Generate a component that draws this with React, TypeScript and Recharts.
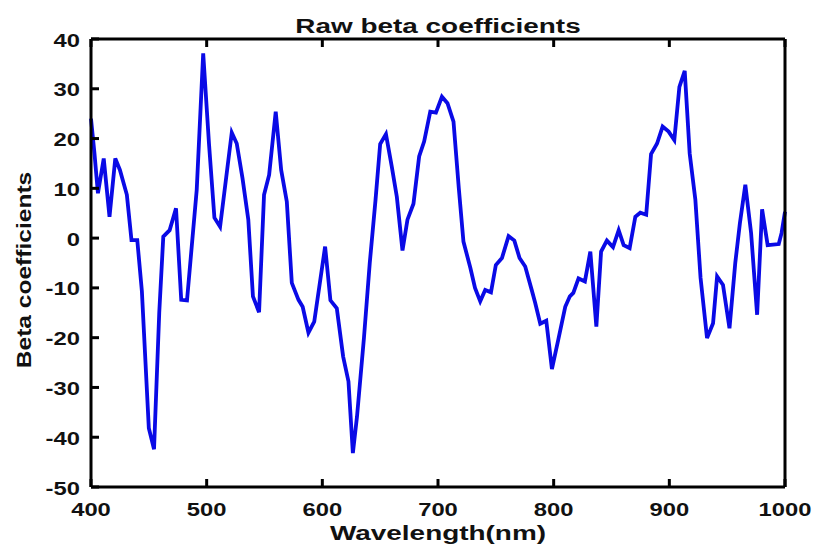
import { LineChart, Line, XAxis, YAxis } from 'recharts';

// wavelengths (nm) and raw beta coefficients
const wavelength = [
  400, 403, 406, 411, 416, 421, 425, 431, 435, 440, 444, 450, 454.5, 459, 462.5,
  468, 473.5, 478, 483, 491.4, 497, 502, 506.7, 511.6, 521.7, 526, 531, 536, 540,
  545.3, 549.6, 554, 559.7, 564.4, 569.3, 573.6, 579.4, 583, 588, 593, 602.4, 607,
  612.5, 618, 622.6, 626.4, 630, 636, 641, 646, 650, 655, 660, 664.4, 669.3, 673.6,
  678.8, 683.7, 688, 693.3, 698.2, 703.4, 708.2, 713.4, 718, 722, 728, 732, 736.5,
  740.8, 745.8, 750, 755.3, 761, 766, 770.5, 775.4, 781, 784, 788.4, 793.6, 798.5,
  804, 810, 814, 817, 821.5, 827, 831.7, 836.9, 841, 846, 851.3, 856.2, 860.5,
  865.7, 870.6, 874.9, 880, 884.2, 889.4, 894.2, 899.4, 904.3, 908.7, 913.3,
  917.6, 922.5, 927, 932.6, 937.8, 941.3, 946.4, 952, 957, 961, 965.7, 970.7,
  975.9, 980.2, 985, 994.6, 997, 1000,
];
const beta = [
  24, 17, 9, 16, 4.3, 16, 13.7, 8.7, -0.4, -0.4, -10.7, -38.2, -42.4, -15, 0.3,
  1.6, 6, -12.4, -12.5, 9.7, 37.1, 19, 4.1, 2.3, 21.2, 19, 12, 3.7, -11.7,
  -14.9, 8.7, 12.7, 25.4, 13.7, 7.3, -9, -12.4, -13.8, -19, -16.8, -1.7, -12.5,
  -14.1, -23.8, -28.8, -43.2, -35.8, -20, -5, 7.7, 18.9, 20.9, 14.4, 8.3, -2.5, 3.7,
  6.9, 16.4, 19.4, 25.4, 25.2, 28.4, 27.1, 23.4, 10, -0.7, -6, -10, -12.7,
  -10.4, -10.9, -5.4, -4, 0.4, -0.5, -4, -5.7, -10.4, -13, -17.2, -16.6, -26.3,
  -20.4, -13.8, -11.7, -11, -8.1, -8.7, -2.7, -17.8, -2.7, -0.5, -1.8, 1.6, -1.4,
  -2, 4.3, 5.1, 4.7, 16.9, 19, 22.4, 21.4, 19.7, 30.4, 33.6,
  17, 7.7, -8, -20.1, -17.1, -7.7, -9.4, -18.1, -5, 3, 10.7, 1,
  -15.4, 5.8, -1.4, -1.2, 1, 5.3,
];
const xTicks = [400, 500, 600, 700, 800, 900, 1000];
const yTicks = [-50, -40, -30, -20, -10, 0, 10, 20, 30, 40];

const data = wavelength.map((w, i) => ({ w, b: beta[i] }));

const FONT = '"Liberation Sans", Arial, sans-serif';
const STRETCH = 1.36;
const TICK = 8; // inward (mirrored) tick length

// mirrored axes hand the tick label the inner end of the tick line
const BottomTick = ({ x, y, payload }: any) => (
  <text transform={`translate(${x},${y + TICK + 29}) scale(${STRETCH},1)`} textAnchor="middle"
    fontFamily={FONT} fontWeight="bold" fontSize={17.5} fill="#111">{payload.value}</text>
);
const LeftTick = ({ x, y, payload }: any) => (
  <text transform={`translate(${x - TICK - 11},${y + 7.5}) scale(${STRETCH},1)`} textAnchor="end"
    fontFamily={FONT} fontWeight="bold" fontSize={17.5} fill="#111">{payload.value}</text>
);
const NoLabel = () => <g />;

const axisLine = { stroke: '#000', strokeWidth: 3 };
const tickLine = { stroke: '#000', strokeWidth: 3 };

export default function App() {
  return (
    <div style={{ position: 'absolute', left: 0, top: 0, width: 816, height: 548, background: '#fff' }}>
      <LineChart width={816} height={548} data={data} margin={{ top: 39, right: 31, bottom: 61, left: 91 }}>
        <XAxis dataKey="w" type="number" domain={[400, 1000]} ticks={xTicks} height={1}
          axisLine={axisLine} tickLine={tickLine} tickSize={TICK} tickMargin={0} mirror
          tick={<BottomTick />} interval={0}
          label={() => (
            <text transform={`translate(438,540) scale(1.33,1)`} textAnchor="middle"
              fontFamily={FONT} fontWeight="bold" fontSize={21} fill="#111">Wavelength(nm)</text>
          )} />
        <XAxis xAxisId="top" orientation="top" dataKey="w" type="number" domain={[400, 1000]} ticks={xTicks}
          height={1} axisLine={axisLine} tickLine={tickLine} tickSize={TICK} tickMargin={0} mirror
          tick={<NoLabel />} interval={0}
          label={() => (
            <text transform={`translate(438,33) scale(1.33,1)`} textAnchor="middle"
              fontFamily={FONT} fontWeight="bold" fontSize={21} fill="#111">Raw beta coefficients</text>
          )} />
        <YAxis type="number" domain={[-50, 40]} ticks={yTicks} width={1}
          axisLine={axisLine} tickLine={tickLine} tickSize={TICK} tickMargin={0} mirror
          tick={<LeftTick />} interval={0}
          label={() => (
            <text transform={`translate(31,270) rotate(-90) scale(1.17,1)`} textAnchor="middle"
              fontFamily={FONT} fontWeight="bold" fontSize={21} fill="#111">Beta coefficients</text>
          )} />
        <YAxis yAxisId="right" orientation="right" type="number" domain={[-50, 40]} ticks={yTicks} width={1}
          axisLine={axisLine} tickLine={tickLine} tickSize={TICK} tickMargin={0} mirror
          tick={<NoLabel />} interval={0} />
        <Line type="linear" dataKey="b" stroke="#0a0ae6" strokeWidth={3.8} dot={false}
          isAnimationActive={false} />
      </LineChart>
    </div>
  );
}
